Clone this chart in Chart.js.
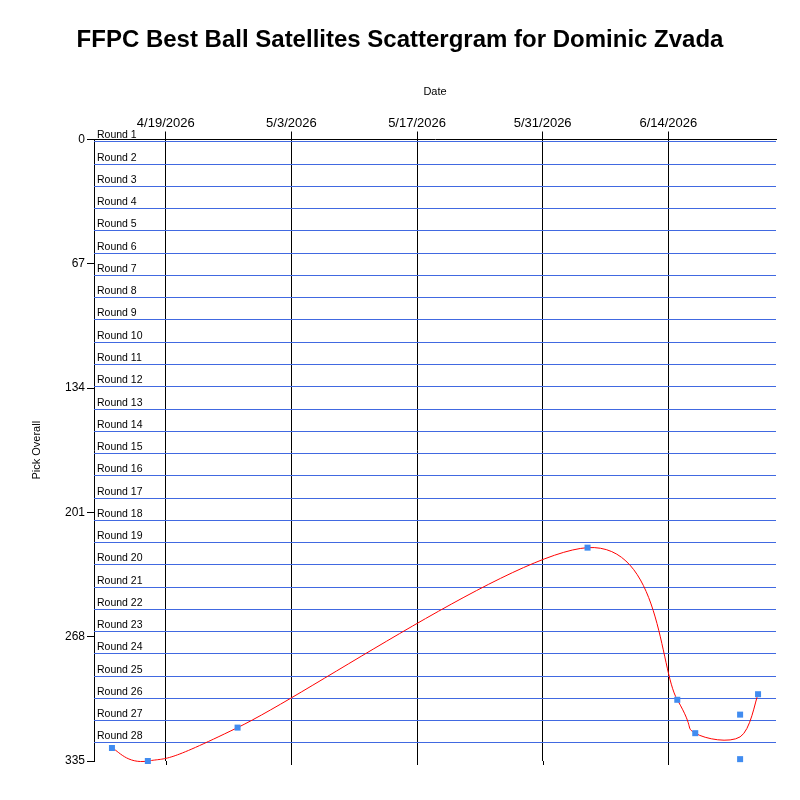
<!DOCTYPE html>
<html>
<head>
<meta charset="utf-8">
<title>FFPC Best Ball Satellites Scattergram</title>
<script src="https://cdn.jsdelivr.net/npm/chart.js@4.4.1/dist/chart.umd.min.js"></script>
<style>
  html, body { margin: 0; padding: 0; background: #fff; }
  #chart { display: block; }
</style>
</head>
<body>
<canvas id="chart" width="800" height="800"></canvas>
<script>
// picks
const pickDates = ['2026-04-13', '2026-04-17', '2026-04-27', '2026-06-05', '2026-06-15',
                   '2026-06-17', '2026-06-22', '2026-06-22', '2026-06-24'];
const pickOverall = [328, 335, 317, 220, 302, 320, 310, 334, 299];

const dateTicks = ['2026-04-19', '2026-05-03', '2026-05-17', '2026-05-31', '2026-06-14'];
const pickTicks = [0, 67, 134, 201, 268, 335];
const dateMin = '2026-04-11';
const dateMax = '2026-06-26';

const roundNames = ['Round 1', 'Round 2', 'Round 3', 'Round 4', 'Round 5', 'Round 6', 'Round 7',
  'Round 8', 'Round 9', 'Round 10', 'Round 11', 'Round 12', 'Round 13', 'Round 14',
  'Round 15', 'Round 16', 'Round 17', 'Round 18', 'Round 19', 'Round 20', 'Round 21',
  'Round 22', 'Round 23', 'Round 24', 'Round 25', 'Round 26', 'Round 27', 'Round 28'];
const roundStartPicks = [1, 13, 25, 37, 49, 61, 73, 85, 97, 109, 121, 133, 145, 157,
  169, 181, 193, 205, 217, 229, 241, 253, 265, 277, 289, 301, 313, 325];

const FONT = '"Liberation Sans", Arial, sans-serif';

function dayNum(s) {
  const [y, m, d] = s.split('-').map(Number);
  return Date.UTC(y, m - 1, d) / 86400000;
}
function dayLabel(n) {
  const d = new Date(n * 86400000);
  return (d.getUTCMonth() + 1) + '/' + d.getUTCDate() + '/' + d.getUTCFullYear();
}

const points = pickDates.map((d, i) => ({ x: dayNum(d), y: pickOverall[i] }));

// trend line goes through the average pick of each date
const byDate = {};
pickDates.forEach((d, i) => {
  (byDate[d] = byDate[d] || []).push(pickOverall[i]);
});
const trend = Object.keys(byDate).sort().map(d => ({
  x: dayNum(d),
  y: byDate[d].reduce((a, b) => a + b, 0) / byDate[d].length
}));

const roundLines = {
  id: 'roundLines',
  beforeDatasetsDraw(chart) {
    const { ctx, chartArea, scales } = chart;
    ctx.save();
    ctx.strokeStyle = '#4169E1';
    ctx.lineWidth = 1;
    ctx.fillStyle = '#000';
    ctx.font = '10.5px ' + FONT;
    ctx.textAlign = 'left';
    ctx.textBaseline = 'alphabetic';
    roundStartPicks.forEach((p, i) => {
      const y = Math.round(scales.y.getPixelForValue(p)) + 0.5;
      ctx.beginPath();
      ctx.moveTo(chartArea.left, y);
      ctx.lineTo(chartArea.right, y);
      ctx.stroke();
      ctx.fillText(roundNames[i], chartArea.left + 3, y - 3.5);
    });
    // vertical grid lines run a little below the plot
    ctx.strokeStyle = '#000';
    scales.x.ticks.forEach(t => {
      const x = Math.round(scales.x.getPixelForValue(t.value)) + 0.5;
      ctx.beginPath();
      ctx.moveTo(x, chartArea.bottom);
      ctx.lineTo(x, chartArea.bottom + 4);
      ctx.stroke();
    });
    ctx.restore();
  }
};

// plain cardinal spline (tension 0.5) instead of chart.js's distance weighted one
const cardinalSpline = {
  id: 'cardinalSpline',
  beforeDatasetDraw(chart, args) {
    const meta = args.meta;
    if (meta.type !== 'line') return;
    meta.dataset.updateControlPoints(chart.chartArea, 'x');
    const pts = meta.data;
    const k = 0.5 / 3;
    pts.forEach((p, i) => {
      const prev = pts[i - 1] || p;
      const next = pts[i + 1] || p;
      const dx = next.x - prev.x, dy = next.y - prev.y;
      p.cp1x = p.x - k * dx; p.cp1y = p.y - k * dy;
      p.cp2x = p.x + k * dx; p.cp2y = p.y + k * dy;
    });
  }
};

Chart.defaults.font.family = FONT;
Chart.defaults.color = '#000';

new Chart(document.getElementById('chart'), {
  type: 'scatter',
  data: {
    datasets: [
      {
        label: 'Picks',
        data: points,
        pointStyle: 'rect',
        pointRadius: 4.25,
        backgroundColor: '#418CF0',
        borderWidth: 0,
        clip: false
      },
      {
        type: 'line',
        label: 'Trend',
        data: trend,
        borderColor: '#FF0000',
        borderWidth: 1,
        tension: 0.5,
        pointRadius: 0,
        fill: false,
        clip: false
      }
    ]
  },
  options: {
    responsive: false,
    animation: false,
    devicePixelRatio: 1,
    layout: { padding: { top: 0, left: 0, right: 0, bottom: 39 } },
    plugins: {
      legend: { display: false },
      tooltip: { enabled: false },
      title: {
        display: true,
        text: 'FFPC Best Ball Satellites Scattergram for Dominic Zvada',
        color: '#000',
        font: { size: 24, weight: 'bold' },
        padding: { top: 26, bottom: 0 }
      }
    },
    scales: {
      x: {
        type: 'linear',
        position: 'top',
        min: dayNum(dateMin),
        max: dayNum(dateMax),
        afterBuildTicks: s => { s.ticks = dateTicks.map(d => ({ value: dayNum(d) })); },
        afterFit: s => { s.height = 84.7; },
        ticks: {
          callback: v => dayLabel(v),
          color: '#000',
          font: { size: 13 },
          maxRotation: 0,
          autoSkip: false,
          padding: 0
        },
        grid: { color: '#000', tickLength: 8 },
        border: { display: true, color: '#000' },
        title: {
          display: true,
          text: 'Date',
          color: '#000',
          font: { size: 11 },
          padding: { top: 31, bottom: 0 }
        }
      },
      y: {
        type: 'linear',
        reverse: true,
        min: 0,
        max: 335,
        afterBuildTicks: s => { s.ticks = pickTicks.map(v => ({ value: v })); },
        afterFit: s => { s.width = 94; },
        ticks: { color: '#000', font: { size: 12 }, padding: 2 },
        grid: { drawOnChartArea: false, color: '#000', tickLength: 7 },
        border: { display: true, color: '#000' },
        title: {
          display: true,
          text: 'Pick Overall',
          color: '#000',
          font: { size: 11 },
          padding: { top: 30, bottom: 0 }
        }
      },
      // empty strip on the right so the title centres on the page
      yRight: {
        type: 'linear',
        position: 'right',
        min: 0,
        max: 1,
        afterFit: s => { s.width = 24; },
        ticks: { display: false },
        grid: { display: false },
        border: { display: false }
      }
    }
  },
  plugins: [roundLines, cardinalSpline]
});
</script>
</body>
</html>
